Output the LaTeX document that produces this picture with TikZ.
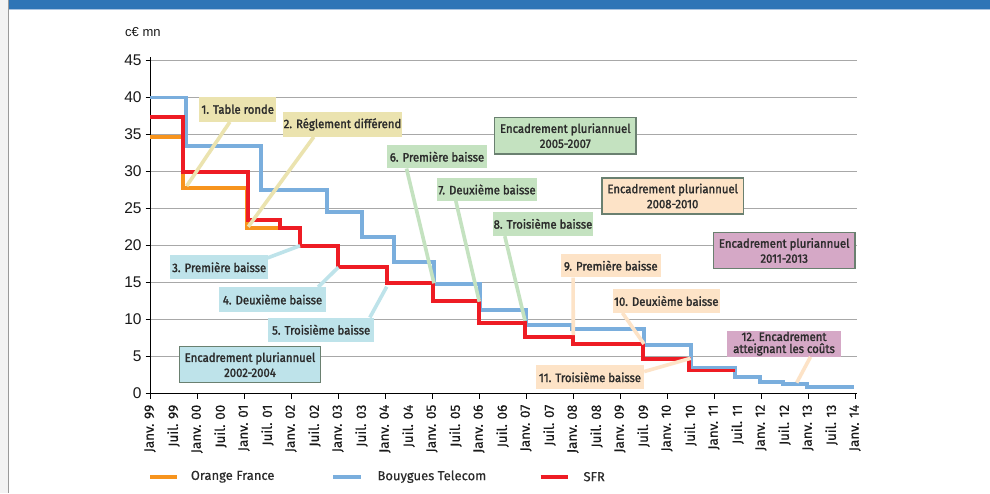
\documentclass[tikz,border=0pt]{standalone}
\usepackage{fontspec}
\setmainfont{Liberation Sans}
\newfontfamily\fira{Fira Sans}[FakeBold=0.4]
\newfontfamily\firab{Fira Sans}[FakeStretch=0.93,FakeBold=1.8]
\usetikzlibrary{calc}
\definecolor{banner}{HTML}{2E75B6}
\definecolor{bannerline}{HTML}{A9C4E0}
\definecolor{pageside}{HTML}{F3F3F3}
\definecolor{sideline}{HTML}{9A9A9A}
\definecolor{gridc}{HTML}{A8A8A8}
\definecolor{txt}{HTML}{2B2B2B}
\definecolor{bluel}{HTML}{7AAEDD}
\definecolor{redl}{HTML}{EE1C24}
\definecolor{orangel}{HTML}{F7941D}
\definecolor{khaki}{HTML}{EBE3AF}
\definecolor{lblue}{HTML}{BEE3EA}
\definecolor{lgreen}{HTML}{C4E2C0}
\definecolor{peach}{HTML}{FDE3C7}
\definecolor{pink}{HTML}{D5A8C6}
\definecolor{ebord}{HTML}{6A8070}
\begin{document}
\begin{tikzpicture}[x=1pt,y=-1pt,
  lbox/.style={fill=#1, inner sep=0pt, text=txt, align=center,
    font=\firab\fontsize{12.2}{15}\selectfont},
  ebox/.style={lbox=#1, draw=ebord, line width=1.3pt},
  conn/.style={draw=#1, line width=3.6pt},
  gridl/.style={draw=gridc, line width=1.1pt},
  serie/.style={draw=#1, line width=3.8pt, line join=miter},
  ylab/.style={anchor=east, inner sep=0pt, text=black!90, font=\fontsize{15.5}{16}\selectfont},
  xlab/.style={rotate=90, anchor=east, inner sep=0pt, text=black!90, font=\fira\fontsize{13.5}{14}\selectfont},
  leg/.style={anchor=west, inner sep=0pt, text=txt, font=\fira\fontsize{13}{14}\selectfont}]
\useasboundingbox (0,0) rectangle (990,493);
% page frame
\fill[white] (0,0) rectangle (990,493);
\fill[pageside] (0,0) rectangle (8,493);
\draw[sideline, line width=1.2pt] (8.6,0) -- (8.6,493);
\fill[banner] (9,0) rectangle (990,9);
\draw[bannerline, line width=1pt] (9,9.6) -- (990,9.6);
% grid
\foreach \v in {5,10,...,45} {
  \draw[gridl] (150,{393.5-7.4*\v}) -- (857,{393.5-7.4*\v});
}
% axes
\draw[black, line width=1pt] (150,57) -- (150,394);
\draw[black, line width=1pt] (150,393.5) -- (857,393.5);
\foreach \v in {0,5,...,45} {
  \draw[black, line width=1pt] (145.5,{393.5-7.4*\v}) -- (150,{393.5-7.4*\v});
  \node[ylab] (y\v) at (141.7,{393.5-7.4*\v}) {\v};
}
\foreach \k in {0,...,15} {
  \draw[black, line width=1pt] ({150+47*\k},393.5) -- ({150+47*\k},398.5);
}
\node[anchor=west, inner sep=0pt, text=black!90, font=\fontsize{13}{14}\selectfont] (unit) at (125,32) {c€ mn};
% x labels
\foreach \h/\t in {0/Janv. 99,1/Juil. 99,2/Janv. 00,3/Juil. 00,4/Janv. 01,5/Juil. 01,
  6/Janv. 02,7/Juil. 02,8/Janv. 03,9/Juil. 03,10/Janv. 04,11/Juil. 04,12/Janv. 05,
  13/Juil. 05,14/Janv. 06,15/Juil. 06,16/Janv. 07,17/Juil. 07,18/Janv. 08,19/Juil. 08,
  20/Janv. 09,21/Juil. 09,22/Janv. 10,23/Juil. 10,24/Janv. 11,25/Juil. 11,26/Janv. 12,
  27/Juil. 12,28/Janv. 13,29/Juil. 13,30/Janv. 14} {
  \node[xlab] (xl\h) at ({150+23.5*\h},404.5) {\t};
}
% series
\draw[serie=bluel] (150,97.5) -- (185.7,97.5) -- (185.7,145.7) -- (260.7,145.7) -- (260.7,190)
  -- (326.7,190) -- (326.7,211.7) -- (361.7,211.7) -- (361.7,236.7) -- (394,236.7)
  -- (394,261.7) -- (434.3,261.7) -- (434.3,284) -- (480,284) -- (480,310) -- (526,310)
  -- (526,325) -- (572,325) -- (572,329.3) -- (644,329.3) -- (644,345) -- (691,345)
  -- (691,368.3) -- (735,368.3) -- (735,376.7) -- (760,376.7) -- (760,382.3)
  -- (783.3,382.3) -- (783.3,384.3) -- (806.7,384.3) -- (806.7,386.7) -- (854,386.7);
\draw[serie=orangel] (150,136.7) -- (182.7,136.7) -- (182.7,187.7) -- (247,187.7)
  -- (247,228.3) -- (278.3,228.3);
\draw[serie=redl] (150,117.3) -- (182.7,117.3) -- (182.7,171.7) -- (248.3,171.7)
  -- (248.3,220) -- (280,220) -- (280,228.3) -- (300,228.3) -- (300,245.7)
  -- (338.3,245.7) -- (338.3,266.7) -- (386.7,266.7) -- (386.7,283.3) -- (433.3,283.3)
  -- (433.3,301) -- (479.3,301) -- (479.3,323.3) -- (525,323.3) -- (525,336.7)
  -- (572.7,336.7) -- (572.7,344.3) -- (642.7,344.3) -- (642.7,359.3) -- (689.3,359.3)
  -- (689.3,370.5) -- (735,370.5);
% target points of the connectors
\coordinate (t1) at (186.7,186);
\coordinate (t2) at (248.3,226.7);
\coordinate (t3) at (300,245.7);
\coordinate (t4) at (338.3,267.3);
\coordinate (t5) at (386.7,286.7);
\coordinate (t6) at (434,283.3);
\coordinate (t7) at (479.3,301.7);
\coordinate (t8) at (525,320.7);
\coordinate (t9) at (573.3,335);
\coordinate (t10) at (644,344);
\coordinate (t11) at (690.7,358.3);
\coordinate (t12) at (796.7,382.7);
% boxes
\node[lbox=khaki, minimum width=76.7pt, minimum height=25pt] (n1) at (237.7,109.2) {1. Table ronde};
\node[lbox=khaki, minimum width=118.4pt, minimum height=24.4pt] (n2) at (342.5,124.5) {2. Réglement différend};
\node[lbox=lblue, minimum width=98.3pt, minimum height=24.3pt] (n3) at (219.2,267.2) {3. Première baisse};
\node[lbox=lblue, minimum width=107pt, minimum height=24.4pt] (n4) at (272.5,299.5) {4. Deuxième baisse};
\node[lbox=lblue, minimum width=105.7pt, minimum height=24pt] (n5) at (321.2,329.7) {5. Troisième baisse};
\node[lbox=lgreen, minimum width=99.4pt, minimum height=23.3pt] (n6) at (437,156.7) {6. Première baisse};
\node[lbox=lgreen, minimum width=99.4pt, minimum height=22.4pt] (n7) at (487,189.5) {7. Deuxième baisse};
\node[lbox=lgreen, minimum width=99.4pt, minimum height=24.3pt] (n8) at (543,223.8) {8. Troisième baisse};
\node[lbox=peach, minimum width=99.7pt, minimum height=23.3pt] (n9) at (610.8,265.7) {9. Première baisse};
\node[lbox=peach, minimum width=107.3pt, minimum height=23.4pt] (n10) at (666.3,301) {10. Deuxième baisse};
\node[lbox=peach, minimum width=108pt, minimum height=24.3pt] (n11) at (590,377.2) {11. Troisième baisse};
\node[lbox=pink, minimum width=113.4pt, minimum height=26pt, font=\firab\fontsize{12.2}{12}\selectfont] (n12) at (784,343.7) {12. Encadrement\\atteignant les coûts};
\node[ebox=lblue, minimum width=141.4pt, minimum height=36pt] (e1) at (250,364.7) {Encadrement pluriannuel\\2002-2004};
\node[ebox=lgreen, minimum width=141.3pt, minimum height=36.7pt] (e2) at (565.3,135.7) {Encadrement pluriannuel\\2005-2007};
\node[ebox=peach, minimum width=141.3pt, minimum height=36pt] (e3) at (672.7,196) {Encadrement pluriannuel\\2008-2010};
\node[ebox=pink, minimum width=141.7pt, minimum height=35.6pt] (e4) at (784.2,250.5) {Encadrement pluriannuel\\2011-2013};
% connectors
\draw[conn=khaki] ($(n1.south west)+(30.7,0)$) -- (t1);
\draw[conn=khaki] ($(n2.south west)+(30.7,0)$) -- (t2);
\draw[conn=lblue] ($(n3.north east)+(-1.6,3.3)$) -- (t3);
\draw[conn=lblue] ($(n4.north west)+(99.3,0)$) -- (t4);
\draw[conn=lblue] ($(n5.north west)+(101.7,0)$) -- (t5);
\draw[conn=lgreen] ($(n6.south west)+(19.4,0)$) -- (t6);
\draw[conn=lgreen] ($(n7.south west)+(18.7,0)$) -- (t7);
\draw[conn=lgreen] ($(n8.south west)+(11.7,0)$) -- (t8);
\draw[conn=peach] ($(n9.south west)+(12.3,0)$) -- (t9);
\draw[conn=peach] ($(n10.south west)+(10,0)$) -- (t10);
\draw[conn=peach] ($(n11.north east)+(0,6.7)$) -- (t11);
\draw[conn=peach] ($(n12.south west)+(83.4,0)$) -- (t12);
% legend
\coordinate (lo1) at (150,476.7); \coordinate (lo2) at (177.3,476.7);
\coordinate (lb1) at (333.3,476.7); \coordinate (lb2) at (360.7,476.7);
\coordinate (lr1) at (540.7,476.7); \coordinate (lr2) at (568.3,476.7);
\draw[orangel, line width=3.6pt] (lo1) -- (lo2);
\draw[bluel, line width=3.6pt] (lb1) -- (lb2);
\draw[redl, line width=3.6pt] (lr1) -- (lr2);
\node[leg] (lgo) at (190.7,476.7) {Orange France};
\node[leg] (lgb) at (377.3,476.7) {Bouygues Telecom};
\node[leg] (lgr) at (583.3,476.7) {SFR};
\end{tikzpicture}
\end{document}
